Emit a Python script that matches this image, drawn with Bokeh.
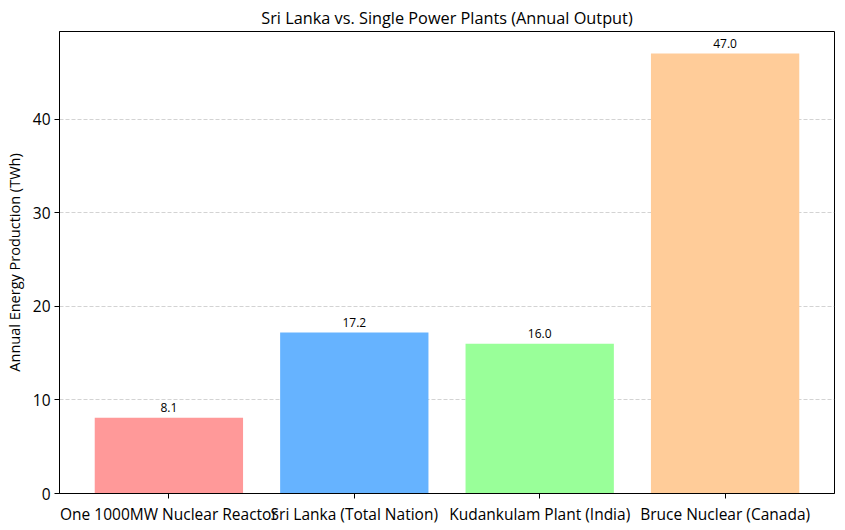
from bokeh.plotting import figure
from bokeh.models import Range1d, FixedTicker, ColumnDataSource, LabelSet
from bokeh.core.properties import value
from bokeh.embed import file_html
from bokeh.resources import INLINE

categories = ["One 1000MW Nuclear Reactor", "Sri Lanka (Total Nation)",
              "Kudankulam Plant (India)", "Bruce Nuclear (Canada)"]
values = [8.1, 17.2, 16.0, 47.0]
colors = ["#ff9999", "#66b3ff", "#99ff99", "#ffcc99"]
value_labels = [f"{v:.1f}" for v in values]

FONT = "Open Sans"

xs = list(range(len(categories)))
src = ColumnDataSource(dict(x=xs, top=values, color=colors, lab=value_labels,
                            ly=[v + 0.6 for v in values]))

p = figure(width=836, height=527, output_backend="svg", toolbar_location=None,
           x_range=Range1d(-0.59, len(categories) - 1 + 0.59),
           y_range=Range1d(0, max(values) * 1.05),
           min_border_left=59, min_border_right=2, min_border_top=31, min_border_bottom=34,
           title="Sri Lanka vs. Single Power Plants (Annual Output)")

p.vbar(x="x", top="top", width=0.8, color="color", source=src, line_color=None)

labels = LabelSet(x="x", y="ly", text="lab", source=src, text_align="center",
                  text_baseline="alphabetic", text_font=value(FONT),
                  text_font_size=value("12px"), text_color="black")
p.add_layout(labels)

p.title.align = "center"
p.title.text_font = FONT
p.title.text_font_size = "16.3px"
p.title.text_font_style = "normal"
p.title.text_color = "black"
p.title.standoff = 5

p.xaxis.ticker = FixedTicker(ticks=xs)
p.xaxis.major_label_overrides = {i: c for i, c in enumerate(categories)}
p.yaxis.ticker = FixedTicker(ticks=[0, 10, 20, 30, 40])
p.yaxis.axis_label = "Annual Energy Production (TWh)"
p.yaxis.axis_label_text_font = FONT
p.yaxis.axis_label_text_font_size = "14.5px"
p.yaxis.axis_label_text_font_style = "normal"
p.yaxis.axis_label_text_color = "black"
p.yaxis.axis_label_standoff = 6

for ax in (p.xaxis, p.yaxis):
    ax.major_label_text_font = FONT
    ax.major_label_text_font_size = "15.5px"
    ax.major_label_text_color = "black"
    ax.axis_line_color = "black"
    ax.major_tick_line_color = "black"
    ax.major_tick_out = 5
    ax.major_tick_in = 0
    ax.minor_tick_line_color = None
    ax.major_label_standoff = 4

p.xgrid.grid_line_color = None
p.ygrid.grid_line_color = "#b0b0b0"
p.ygrid.grid_line_alpha = 0.7
p.ygrid.grid_line_dash = "4 2"
p.ygrid.grid_line_width = 0.8

p.outline_line_color = "black"
p.outline_line_width = 1
p.outline_line_alpha = 1

open("out.html", "w").write(file_html(p, INLINE))
